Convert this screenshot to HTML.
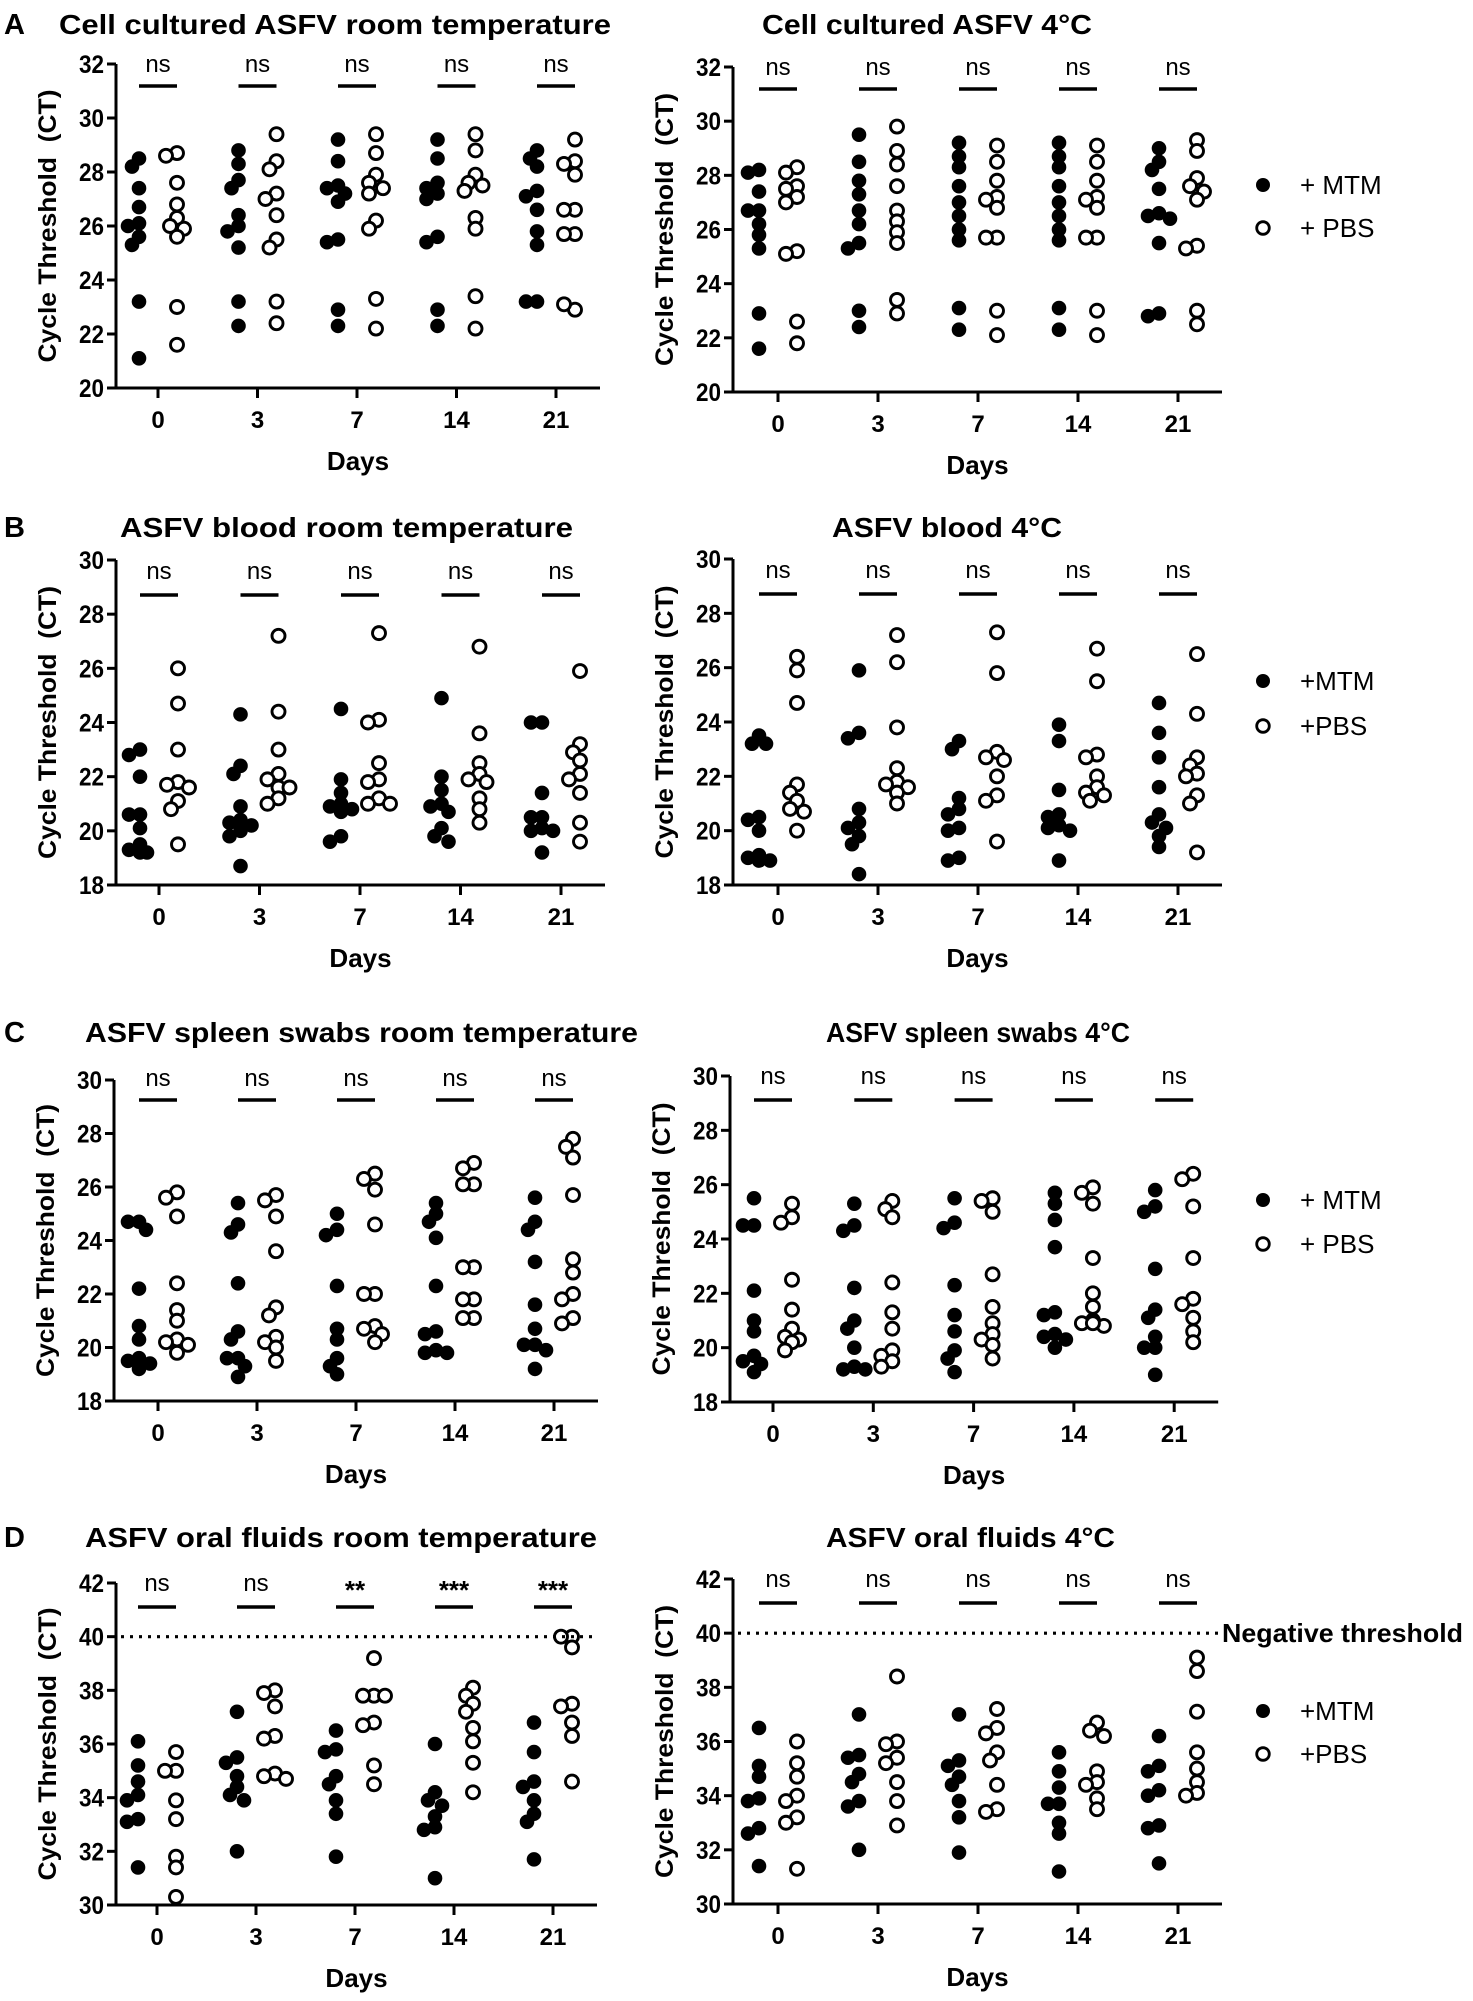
<!DOCTYPE html>
<html><head><meta charset="utf-8"><title>ASFV CT</title>
<style>
html,body{margin:0;padding:0;background:#fff;}
svg{display:block;font-family:"Liberation Sans",sans-serif;}
</style></head>
<body>
<svg id="fig" width="1473" height="2001" viewBox="0 0 1473 2001" xmlns="http://www.w3.org/2000/svg"></svg>
<script>
const days = ['0','3','7','14','21'];
const sigNs = ['ns','ns','ns','ns','ns'];
const sigOralRoom = ['ns','ns','**','***','***'];
const ticksA = [20,22,24,26,28,30,32];
const ticksBC = [18,20,22,24,26,28,30];
const ticksD = [30,32,34,36,38,40,42];

const aRoomMTM = [[28.5,28.2,27.4,26.7,26.1,26.0,25.6,25.3,23.2,21.1],[28.8,28.3,27.7,27.4,26.4,26.0,25.8,25.2,23.2,22.3],[29.2,28.4,27.5,27.4,27.2,26.9,25.5,25.4,22.9,22.3],[29.2,28.5,27.6,27.4,27.2,27.0,25.6,25.4,22.9,22.3],[28.8,28.5,28.2,27.3,27.1,26.6,25.8,25.3,23.2,23.2]];
const aRoomPBS = [[28.7,28.6,27.6,26.8,26.3,26.0,25.9,25.6,23.0,21.6],[29.4,28.4,28.1,27.2,27.0,26.4,25.5,25.2,23.2,22.4],[29.4,28.7,27.9,27.6,27.4,27.2,26.2,25.9,23.3,22.2],[29.4,28.8,27.9,27.6,27.5,27.3,26.3,25.9,23.4,22.2],[29.2,28.4,28.3,27.9,26.6,26.6,25.7,25.7,22.9,23.1]];
const aColdMTM = [[28.2,28.1,27.4,26.7,26.7,26.2,25.8,25.3,22.9,21.6],[29.5,28.5,27.8,27.3,26.7,26.2,25.5,25.3,23.0,22.4],[29.2,28.7,28.3,27.6,27.0,26.5,26.0,25.6,23.1,22.3],[29.2,28.7,28.3,27.6,27.0,26.5,26.0,25.6,23.1,22.3],[29.0,28.5,28.2,27.5,26.6,26.5,26.4,25.5,22.9,22.8]];
const aColdPBS = [[28.3,28.1,27.6,27.5,27.2,27.0,25.2,25.1,22.6,21.8],[29.8,28.9,28.4,27.6,26.7,26.3,25.9,25.5,23.4,22.9],[29.1,28.5,27.8,27.2,27.1,26.8,25.7,25.7,23.0,22.1],[29.1,28.5,27.8,27.2,27.1,26.8,25.7,25.7,23.0,22.1],[29.3,28.9,27.9,27.6,27.4,27.1,25.4,25.3,23.0,22.5]];

const bRoomMTM = [[23.0,22.8,22.0,20.6,20.6,20.1,19.5,19.3,19.2,19.2],[24.3,22.4,22.1,20.9,20.4,20.3,20.2,20.0,19.8,18.7],[24.5,21.9,21.4,21.0,20.9,20.8,20.7,19.8,19.6],[24.9,22.0,21.5,21.0,20.9,20.7,20.1,19.8,19.6],[24.0,24.0,21.4,20.5,20.5,20.1,20.0,20.0,19.2]];
const bRoomPBS = [[26.0,24.7,23.0,21.8,21.7,21.6,21.1,20.8,19.5],[27.2,24.4,23.0,22.1,21.9,21.6,21.6,21.2,21.0],[27.3,24.1,24.0,22.5,21.9,21.8,21.2,21.0,21.0],[26.8,23.6,22.5,22.1,21.9,21.8,21.2,20.8,20.3],[25.9,23.2,22.9,22.6,22.1,21.9,21.4,20.3,19.6]];
const bColdMTM = [[23.5,23.2,23.2,20.5,20.4,20.0,19.1,19.0,18.9,18.9],[25.9,23.6,23.4,20.8,20.3,20.1,19.8,19.5,18.4],[23.3,23.0,21.2,20.8,20.6,20.1,20.0,19.0,18.9],[23.9,23.3,21.5,20.6,20.5,20.2,20.1,20.0,18.9],[24.7,23.6,22.7,21.6,20.6,20.3,20.1,19.8,19.4]];
const bColdPBS = [[26.4,25.9,24.7,21.7,21.4,21.1,20.8,20.7,20.0],[27.2,26.2,23.8,22.3,21.8,21.7,21.6,21.4,21.0],[27.3,25.8,22.9,22.7,22.6,22.0,21.3,21.1,19.6],[26.7,25.5,22.8,22.7,22.0,21.6,21.4,21.3,21.1],[26.5,24.3,22.7,22.4,22.1,22.0,21.3,21.0,19.2]];

const cRoomMTM = [[24.7,24.7,24.4,22.2,20.8,20.3,19.6,19.5,19.4,19.2],[25.4,24.6,24.3,22.4,20.6,20.3,19.6,19.6,19.3,18.9],[25.0,24.4,24.2,22.3,20.7,20.3,19.6,19.3,19.0],[25.4,25.0,24.7,24.1,22.3,20.6,20.5,19.9,19.8,19.8],[25.6,24.7,24.4,23.2,21.6,20.7,20.1,20.1,19.9,19.2]];
const cRoomPBS = [[25.8,25.6,24.9,22.4,21.4,21.0,20.3,20.2,20.1,19.8],[25.7,25.5,24.9,23.6,21.5,21.2,20.4,20.2,20.0,19.5],[26.5,26.3,25.9,24.6,22.0,22.0,20.8,20.7,20.5,20.2],[26.9,26.7,26.1,26.1,23.0,23.0,21.8,21.8,21.1,21.1],[27.8,27.5,27.1,25.7,23.3,22.8,22.0,21.8,21.1,20.9]];
const cColdMTM = [[25.5,24.5,24.5,22.1,21.0,20.6,19.7,19.5,19.4,19.1],[25.3,24.5,24.3,22.2,21.0,20.7,20.0,19.3,19.2,19.2],[25.5,24.6,24.4,22.3,21.2,20.6,19.9,19.6,19.1],[25.7,25.3,24.7,23.7,21.3,21.2,20.5,20.4,20.3,20.0],[25.8,25.2,25.0,22.9,21.4,21.1,20.4,20.0,20.0,19.0]];
const cColdPBS = [[25.3,24.8,24.6,22.5,21.4,20.7,20.4,20.3,20.2,19.9],[25.4,25.1,24.8,22.4,21.3,20.7,19.9,19.7,19.5,19.3],[25.5,25.4,25.0,22.7,21.5,20.9,20.5,20.3,20.1,19.6],[25.9,25.7,25.3,23.3,22.0,21.5,21.0,20.9,20.8,20.9],[26.4,26.2,25.2,23.3,21.8,21.6,21.1,20.6,20.2]];

const dRoomMTM = [[36.1,35.2,34.6,34.1,33.9,33.2,33.1,31.4],[37.2,35.5,35.3,34.8,34.4,34.1,33.9,32.0],[36.5,35.8,35.7,34.8,34.5,33.9,33.4,31.8],[36.0,34.2,33.9,33.7,33.3,32.9,32.8,31.0],[36.8,35.7,34.6,34.4,33.9,33.4,33.1,31.7]];
const dRoomPBS = [[35.7,35.0,35.0,33.9,33.2,31.8,31.4,30.3],[38.0,37.9,37.4,36.3,36.2,34.9,34.8,34.7],[39.2,37.8,37.8,37.8,36.8,36.7,35.2,34.5],[38.1,37.8,37.5,37.2,36.6,36.1,35.3,34.2],[40.0,40.0,39.6,37.5,37.4,36.8,36.3,34.6]];
const dColdMTM = [[36.5,35.1,34.7,33.9,33.8,32.8,32.6,31.4],[37.0,35.5,35.4,34.8,34.5,33.8,33.6,32.0],[37.0,35.3,35.1,34.7,34.4,33.8,33.2,31.9],[35.6,34.9,34.3,33.7,33.7,33.0,32.6,31.2],[36.2,35.1,34.9,34.2,34.0,32.9,32.8,31.5]];
const dColdPBS = [[36.0,35.2,34.7,34.0,33.8,33.2,33.0,31.3],[38.4,36.0,35.9,35.4,35.2,34.5,33.8,32.9],[37.2,36.5,36.3,35.6,35.3,34.4,33.5,33.4],[36.7,36.4,36.2,34.9,34.5,34.4,33.9,33.5],[39.1,38.6,37.1,35.6,35.0,34.5,34.1,34.0]];

const NS = 'http://www.w3.org/2000/svg';
const svg = document.getElementById('fig');
function mk(tag, attrs, parent){
  const e = document.createElementNS(NS, tag);
  for (const k in attrs) e.setAttribute(k, attrs[k]);
  (parent||svg).appendChild(e);
  return e;
}

const panels = [
 {id:'a-room', letter:'A', title:'Cell cultured ASFV room temperature', tx:59, tw:552, ty:34, ax:116, x0:158, dx:99.5, top:64, bot:388, ticks:ticksA, mtm:aRoomMTM, pbs:aRoomPBS, sig:sigNs, nsOff:8, barOff:22},
 {id:'a-cold', title:'Cell cultured ASFV 4°C', tx:762, tw:330, ty:34, ax:733, x0:778, dx:100, top:67, bot:392, ticks:ticksA, mtm:aColdMTM, pbs:aColdPBS, sig:sigNs, nsOff:8, barOff:22, legend:{y1:185,y2:228,t1:'+ MTM',t2:'+ PBS'}},
 {id:'b-room', letter:'B', title:'ASFV blood room temperature', tx:120, tw:453, ty:537, ax:116, x0:159, dx:100.5, top:560, bot:885, ticks:ticksBC, mtm:bRoomMTM, pbs:bRoomPBS, sig:sigNs, nsOff:19, barOff:35},
 {id:'b-cold', title:'ASFV blood 4°C', tx:832, tw:230, ty:537, ax:733, x0:778, dx:100, top:559, bot:885, ticks:ticksBC, mtm:bColdMTM, pbs:bColdPBS, sig:sigNs, nsOff:19, barOff:35, legend:{y1:681,y2:726,t1:'+MTM',t2:'+PBS'}},
 {id:'c-room', letter:'C', title:'ASFV spleen swabs room temperature', tx:85, tw:553, ty:1042, ax:114, x0:158, dx:99, top:1080, bot:1401, ticks:ticksBC, mtm:cRoomMTM, pbs:cRoomPBS, sig:sigNs, nsOff:6, barOff:20},
 {id:'c-cold', title:'ASFV spleen swabs 4°C', tx:826, tw:304, ty:1042, ax:730, x0:773, dx:100.3, top:1076, bot:1402, ticks:ticksBC, mtm:cColdMTM, pbs:cColdPBS, sig:sigNs, nsOff:8, barOff:24, legend:{y1:1200,y2:1244,t1:'+ MTM',t2:'+ PBS'}},
 {id:'d-room', letter:'D', title:'ASFV oral fluids room temperature', tx:85, tw:512, ty:1547, ax:116, x0:157, dx:99, top:1583, bot:1905, ticks:ticksD, mtm:dRoomMTM, pbs:dRoomPBS, sig:sigOralRoom, nsOff:8, barOff:24, thr:true},
 {id:'d-cold', title:'ASFV oral fluids 4°C', tx:826, tw:289, ty:1547, ax:733, x0:778, dx:100, top:1579, bot:1904, ticks:ticksD, mtm:dColdMTM, pbs:dColdPBS, sig:sigNs, nsOff:8, barOff:24, thr:true, thrLabel:true, legend:{y1:1711,y2:1754,t1:'+MTM',t2:'+PBS'}}
];

function jitter(vals, yf){
  const placed = [];
  const offs = [0,-7,7,-11,11];
  return vals.map(v => {
    const y = yf(v);
    let o = 0;
    for (const c of offs){
      if (!placed.some(p => Math.hypot(p.o - c, p.y - y) < 9)){ o = c; break; }
    }
    placed.push({o:o, y:y});
    return o;
  });
}

panels.forEach(p => {
  const g = mk('g', {});
  
  
  const lo = p.ticks[0], hi = p.ticks[p.ticks.length-1];
  const yf = v => p.bot - (v - lo) / (hi - lo) * (p.bot - p.top);
  const xf = i => p.x0 + i * p.dx;
  const xEnd = xf(4) + 44;

  if (p.letter){
    const L = mk('text', {x:4, y:p.ty, 'font-size':29, 'font-weight':'bold'}, g);
    L.textContent = p.letter;
    
    
  }
  const T = mk('text', {x:p.tx, y:p.ty, 'font-size':28, 'font-weight':'bold', textLength:p.tw, lengthAdjust:'spacingAndGlyphs'}, g);
  T.textContent = p.title;
  
  

  const ya = mk('line', {x1:p.ax, y1:p.top, x2:p.ax, y2:p.bot+1.5, stroke:'#000', 'stroke-width':3}, g);
  
  
  const xa = mk('line', {x1:p.ax-8, y1:p.bot, x2:xEnd, y2:p.bot, stroke:'#000', 'stroke-width':3}, g);
  
  

  p.ticks.forEach(t => {
    const y = yf(t);
    const tl = mk('line', {x1:p.ax-9, y1:y, x2:p.ax, y2:y, stroke:'#000', 'stroke-width':3}, g);
    
    
    const tt = mk('text', {x:p.ax-12, y:y+9, 'font-size':25, 'font-weight':'bold', 'text-anchor':'end', textLength:25, lengthAdjust:'spacingAndGlyphs'}, g);
    tt.textContent = t;
    
    
  });

  const yl = mk('text', {x:0, y:0, 'font-size':25, 'font-weight':'bold', 'text-anchor':'middle', textLength:273, lengthAdjust:'spacingAndGlyphs', transform:'translate(' + (p.ax-60) + ',' + ((p.top+p.bot)/2) + ') rotate(-90)'}, g);
  yl.textContent = 'Cycle Threshold\u00A0 (CT)';
  
  

  days.forEach((d, i) => {
    const x = xf(i);
    const tk = mk('line', {x1:x, y1:p.bot, x2:x, y2:p.bot+10, stroke:'#000', 'stroke-width':3}, g);
    
    
    const lb = mk('text', {x:x, y:p.bot+40, 'font-size':24, 'font-weight':'bold', 'text-anchor':'middle'}, g);
    lb.textContent = d;
    
    

    const sg = mk('text', {x:x, y:p.top+p.nsOff+(p.sig[i]==='ns'?0:8), 'font-size':p.sig[i]==='ns'?24:26, 'font-weight':p.sig[i]==='ns'?'normal':'bold', 'text-anchor':'middle'}, g);
    sg.textContent = p.sig[i];
    
    
    const br = mk('line', {x1:x-19, y1:p.top+p.barOff, x2:x+19, y2:p.top+p.barOff, stroke:'#000', 'stroke-width':3.5}, g);
    
    

    const mv = p.mtm[i], pv = p.pbs[i];
    const mo = jitter(mv, yf), po = jitter(pv, yf);
    mv.forEach((v, k) => {
      const c = mk('circle', {cx:x-19+mo[k], cy:yf(v), r:7.3, fill:'#000'}, g);
      
      
    });
    pv.forEach((v, k) => {
      const c = mk('circle', {cx:x+19+po[k], cy:yf(v), r:6.5, fill:'#fff', stroke:'#000', 'stroke-width':2.9}, g);
      
      
    });
  });

  const dl = mk('text', {x:(p.ax+xEnd)/2, y:p.bot+82, 'font-size':26, 'font-weight':'bold', 'text-anchor':'middle'}, g);
  dl.textContent = 'Days';
  
  

  if (p.thr){
    const y40 = yf(40);
    const th = mk('line', {x1:p.ax+5, y1:y40, x2:p.thrLabel ? 1220 : xEnd-2, y2:y40, stroke:'#000', 'stroke-width':3.2, 'stroke-dasharray':'3 6'}, g);
    
    
    if (p.thrLabel){
      const tl = mk('text', {x:1222, y:y40+9, 'font-size':26, 'font-weight':'bold', textLength:241, lengthAdjust:'spacingAndGlyphs'}, g);
      tl.textContent = 'Negative threshold';
      
      
    }
  }

  if (p.legend){
    const lg = mk('g', {}, g);
    
    
    const c1 = mk('circle', {cx:1263, cy:p.legend.y1, r:7, fill:'#000'}, lg);
    
    
    const t1 = mk('text', {x:1300, y:p.legend.y1+9, 'font-size':26}, lg);
    t1.textContent = p.legend.t1;
    
    
    const c2 = mk('circle', {cx:1263, cy:p.legend.y2, r:6.3, fill:'#fff', stroke:'#000', 'stroke-width':2.8}, lg);
    
    
    const t2 = mk('text', {x:1300, y:p.legend.y2+9, 'font-size':26}, lg);
    t2.textContent = p.legend.t2;
    
    
  }
});
</script>
</body></html>
